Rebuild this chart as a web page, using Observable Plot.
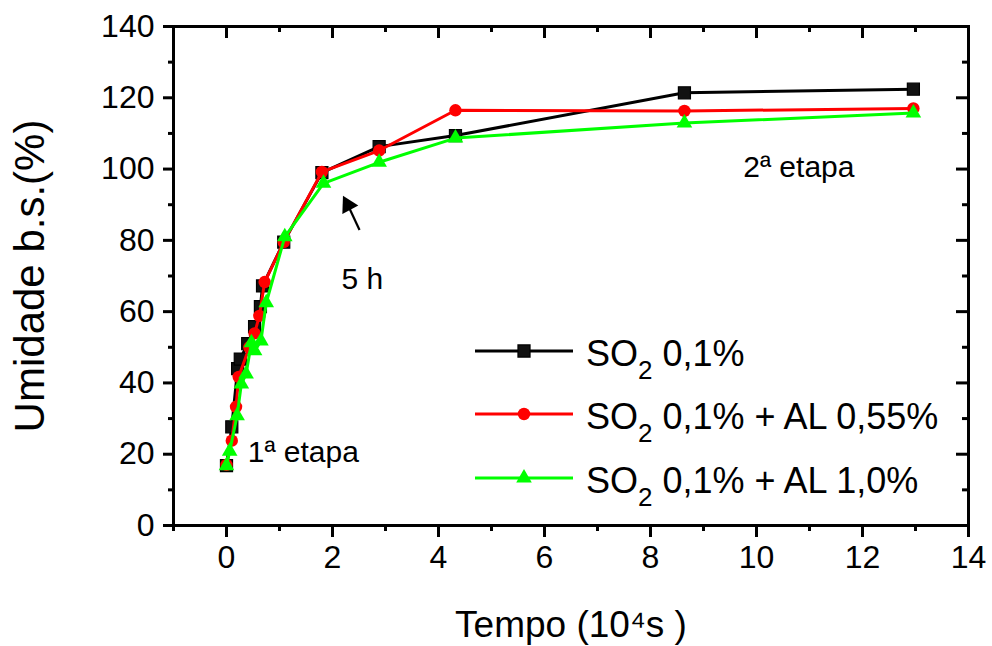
<!DOCTYPE html>
<html>
<head>
<meta charset="utf-8">
<script src="https://cdn.jsdelivr.net/npm/d3@7"></script>
<script src="https://cdn.jsdelivr.net/npm/@observablehq/plot@0.6"></script>
<style>
  body { margin: 0; background: #fff; font-family: "Liberation Sans", Arial, sans-serif; }
  #wrap { position: relative; width: 992px; height: 646px; background: #fff; }
  .lg-svg { position: absolute; }
  .lg-text { position: absolute; font-size: 36px; line-height: 36px; white-space: nowrap; color: #000; }
  .lg-text sub { font-size: 26px; vertical-align: -13px; line-height: 0; }
</style>
</head>
<body>
<div id="wrap"></div>
<script>
// ---- data ----
const seriesNames = ["SO2 0,1%", "SO2 0,1% + AL 0,55%", "SO2 0,1% + AL 1,0%"];
const legendHtml = ["SO<sub>2</sub> 0,1%", "SO<sub>2</sub> 0,1% + AL 0,55%", "SO<sub>2</sub> 0,1% + AL 1,0%"];
const seriesColors = ["#000000", "#ff0000", "#00ff00"];
const seriesSymbols = ["square", "circle", "triangle"];

const blackX = [0, 0.1, 0.21, 0.26, 0.4, 0.53, 0.64, 0.68, 1.08, 1.8, 2.88, 4.32, 8.64, 12.96];
const blackY = [16.8, 27.7, 44, 46.7, 51, 55.8, 61.4, 67.2, 79.5, 99, 106.3, 109.4, 121.4, 122.4];

const redX = [0, 0.1, 0.18, 0.23, 0.43, 0.53, 0.62, 0.72, 1.08, 1.8, 2.88, 4.32, 8.64, 12.96];
const redY = [17, 23.8, 33.3, 41.7, 50, 53.9, 58.8, 68.3, 79.5, 99.2, 105.2, 116.5, 116.3, 117];

const greenX = [0, 0.06, 0.2, 0.28, 0.37, 0.47, 0.53, 0.65, 0.75, 1.1, 1.83, 2.88, 4.32, 8.64, 12.96];
const greenY = [16.8, 20.8, 30.8, 39.7, 42.5, 51.3, 49, 51.8, 62.5, 81, 96, 101.9, 108.7, 112.9, 115.7];

const xMajorTicks = [0, 2, 4, 6, 8, 10, 12, 14];
const xMinorTicks = [-1, 1, 3, 5, 7, 9, 11, 13];
const yMajorTicks = [0, 20, 40, 60, 80, 100, 120, 140];
const yMinorTicks = [10, 30, 50, 70, 90, 110, 130];

const xTitle = "Tempo (10\u2074s )";
const yTitle = "Umidade b.s.(%)";

const annotText = ["1\u00aa etapa", "2\u00aa etapa", "5 h"];
const annotX = [0.40, 9.75, 2.17];
const annotY = [20.5, 100.4, 69];

// arrow pointing to the 5 h point: tail -> head
const arrowTail = [2.51, 82.9];
const arrowHead = [2.29, 89.9];

// ---- build ----
const xs = [blackX, redX, greenX];
const ys = [blackY, redY, greenY];
const series = seriesNames.map((name, i) => xs[i].map((x, j) => ({series: name, x, y: ys[i][j]})));

const W = 992, H = 646, mL = 173, mR = 24, mT = 26, mB = 121;
const innerW = W - mL - mR, innerH = H - mT - mB;
const dotR = [6.8, 6.2, 5.8];

const seriesMarks = [];
series.forEach((d, i) => {
  seriesMarks.push(Plot.line(d, {x: "x", y: "y", stroke: seriesColors[i], strokeWidth: 3}));
  seriesMarks.push(Plot.dot(d, {
    x: "x", y: "y", symbol: seriesSymbols[i], r: dotR[i],
    fill: i === 0 ? "#111" : seriesColors[i],
    stroke: i === 0 ? "#000" : "none", strokeWidth: 1.2
  }));
});

const chart = Plot.plot({
  width: W, height: H,
  marginLeft: mL, marginRight: mR, marginTop: mT, marginBottom: mB,
  style: {fontFamily: "'Liberation Sans', Arial, sans-serif", background: "white", color: "black", overflow: "visible"},
  x: {domain: [-1, 14]},
  y: {domain: [0, 140]},
  marks: [
    Plot.axisX({ticks: xMajorTicks, tickSize: 12, tickPadding: 8, fontSize: 32, strokeWidth: 3, label: null}),
    Plot.axisX({ticks: xMinorTicks, tickSize: 6, tickFormat: () => "", strokeWidth: 3, label: null}),
    Plot.axisY({ticks: yMajorTicks, tickSize: 10, tickPadding: 9, fontSize: 32, strokeWidth: 3, label: null}),
    Plot.axisY({ticks: yMinorTicks, tickSize: 5, tickFormat: () => "", strokeWidth: 3, label: null}),
    Plot.ruleX(xMajorTicks, {insetBottom: innerH - 12, strokeWidth: 3}),
    Plot.ruleX(xMinorTicks, {insetBottom: innerH - 6, strokeWidth: 3}),
    Plot.ruleY(yMajorTicks, {insetLeft: innerW - 12, strokeWidth: 3}),
    Plot.ruleY(yMinorTicks, {insetLeft: innerW - 6, strokeWidth: 3}),
    Plot.frame({stroke: "black", strokeWidth: 3}),
    ...seriesMarks,
    Plot.link([0], {x1: () => arrowTail[0], y1: () => arrowTail[1], x2: () => arrowHead[0], y2: () => arrowHead[1], stroke: "black", strokeWidth: 2.2}),
    Plot.dot([0], {x: () => arrowHead[0], y: () => arrowHead[1], symbol: "triangle", r: 6.7, rotate: -28, fill: "black", stroke: "none"}),
    Plot.text(annotText, {x: (d, i) => annotX[i], y: (d, i) => annotY[i], text: d => d, textAnchor: "start", fontSize: 30, fill: "black"}),
    Plot.text([yTitle], {frameAnchor: "left", dx: -143, rotate: -90, textAnchor: "middle", lineAnchor: "middle", fontSize: 42, fill: "black"}),
    Plot.text([xTitle], {frameAnchor: "bottom", dy: 100, textAnchor: "middle", lineAnchor: "middle", fontSize: 37, fill: "black"})
  ]
});

const wrap = document.getElementById("wrap");
wrap.appendChild(chart);

// ---- legend (HTML overlay, with subscripts) ----
const legendRowsY = [351, 414, 478];
const legendLineX = 475, legendLineW = 98, legendTextX = 586;
seriesNames.forEach((name, i) => {
  const cy = legendRowsY[i];
  const svg = d3.select(wrap).append("svg")
    .attr("class", "lg-svg")
    .attr("width", legendLineW + 4).attr("height", 30)
    .style("left", (legendLineX - 2) + "px").style("top", (cy - 15) + "px");
  svg.append("line").attr("x1", 2).attr("x2", legendLineW + 2).attr("y1", 15).attr("y2", 15)
    .attr("stroke", seriesColors[i]).attr("stroke-width", 3);
  const symType = i === 0 ? d3.symbolSquare : i === 1 ? d3.symbolCircle : d3.symbolTriangle;
  svg.append("path")
    .attr("d", d3.symbol(symType, dotR[i] * dotR[i] * Math.PI)())
    .attr("transform", `translate(${legendLineW / 2 + 2},15)`)
    .attr("fill", i === 0 ? "#111" : seriesColors[i])
    .attr("stroke", i === 0 ? "#000" : "none").attr("stroke-width", 1.2);
  d3.select(wrap).append("div")
    .attr("class", "lg-text")
    .style("left", legendTextX + "px").style("top", (cy - 15.5) + "px")
    .html(legendHtml[i]);
});
</script>
</body>
</html>
